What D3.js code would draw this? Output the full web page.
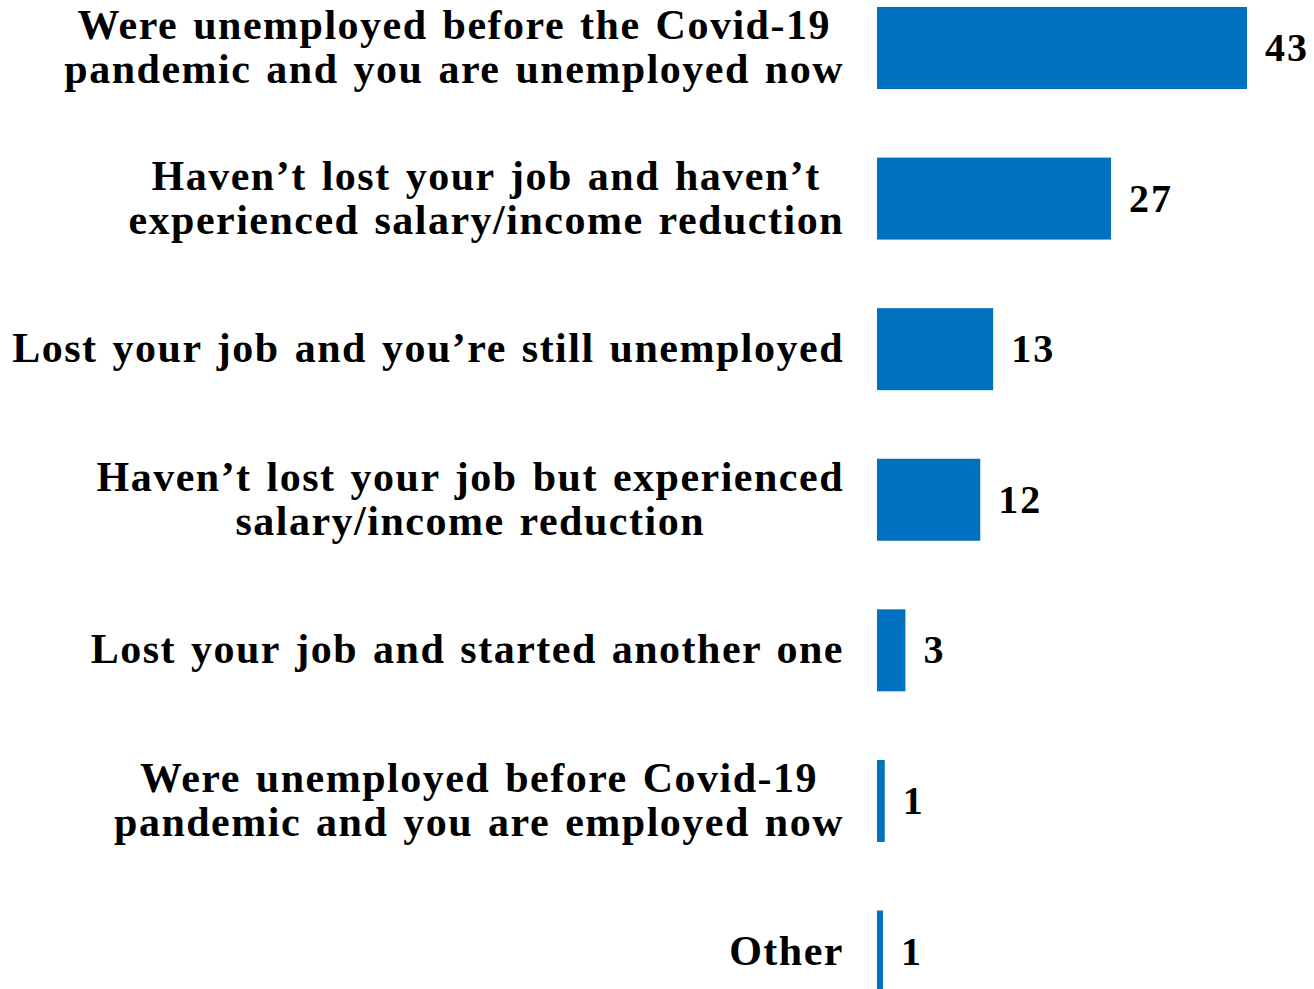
<!DOCTYPE html>
<html>
<head>
<meta charset="utf-8">
<script src="https://cdn.jsdelivr.net/npm/d3@7"></script>
<style>
html,body{margin:0;padding:0;background:#fff;}
svg{display:block;}
text{font-family:"Liberation Serif",serif;font-weight:bold;fill:#000;}
</style>
</head>
<body>
<svg id="chart" width="1314" height="989"></svg>
<script>
const categories = [
  ["Were unemployed before the Covid-19", "pandemic and you are unemployed now"],
  ["Haven\u2019t lost your job and haven\u2019t", "experienced salary/income reduction"],
  ["Lost your job and you\u2019re still unemployed"],
  ["Haven\u2019t lost your job but experienced", "salary/income reduction"],
  ["Lost your job and started another one"],
  ["Were unemployed before Covid-19", "pandemic and you are employed now"],
  ["Other"]
];
const values = [43, 27.2, 13.5, 12, 3.3, 0.9, 0.7];
const valueLabels = ["43", "27", "13", "12", "3", "1", "1"];

const svg = d3.select("#chart");
const x0 = 877;
const x = d3.scaleLinear().domain([0, 43]).range([x0, 1247]);
const y = d3.scalePoint().domain(d3.range(categories.length)).range([48, 951.5]);
const barH = 82;
const fontSize = 42;
const lineH = 44;
const labelRight = 844;
const color = "#0070c0";

const g = svg.append("g");

g.selectAll("rect.bar").data(values).join("rect")
  .attr("class", "bar")
  .attr("x", x0)
  .attr("y", (d, i) => y(i) - barH / 2)
  .attr("width", d => x(d) - x0)
  .attr("height", barH)
  .attr("fill", color);

g.selectAll("text.val").data(values).join("text")
  .attr("class", "val")
  .attr("x", d => x(d) + 18)
  .attr("y", (d, i) => y(i) + 13)
  .attr("font-size", 40)
  .attr("letter-spacing", 2)
  .text((d, i) => valueLabels[i]);

categories.forEach((lines, i) => {
  const grp = g.append("g");
  const texts = lines.map((ln, j) => grp.append("text")
    .attr("font-size", fontSize)
    .attr("letter-spacing", 1.5)
    .attr("word-spacing", 3)
    .attr("text-anchor", "middle")
    .attr("y", y(i) + 13 + (j - (lines.length - 1) / 2) * lineH)
    .text(ln));
  const maxW = d3.max(texts, t => t.node().getComputedTextLength());
  texts.forEach(t => t.attr("x", labelRight - maxW / 2));
});
</script>
</body>
</html>
